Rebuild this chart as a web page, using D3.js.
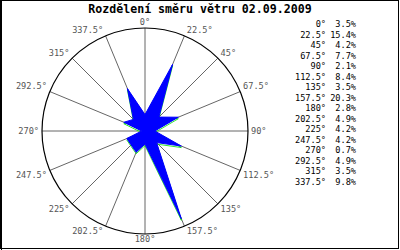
<!DOCTYPE html>
<html>
<head>
<meta charset="utf-8">
<script src="https://cdn.jsdelivr.net/npm/d3@7/dist/d3.min.js"></script>
<style>
  body { margin: 0; background: #fff; }
  text { font-family: "DejaVu Sans Mono", monospace; }
</style>
</head>
<body>
<svg id="chart" width="400" height="250"></svg>
<script>
const title = 'Rozdělení směru větru 02.09.2009';
const directions = [0, 22.5, 45, 67.5, 90, 112.5, 135, 157.5, 180, 202.5, 225, 247.5, 270, 292.5, 315, 337.5];
const percents = [3.5, 15.4, 4.2, 7.7, 2.1, 8.4, 3.5, 20.3, 2.8, 4.9, 4.2, 4.2, 0.7, 4.9, 3.5, 9.8];
const scaleMax = 22;

const cx = 145, cy = 131, R = 103;

const svg = d3.select('#chart');

svg.append('rect')
    .attr('x', 0.5).attr('y', 0.5)
    .attr('width', 398).attr('height', 248)
    .attr('fill', '#fff')
    .attr('stroke', '#000');
svg.append('line')
    .attr('x1', 1.5).attr('x2', 1.5).attr('y1', 0).attr('y2', 250)
    .attr('stroke', '#000');

svg.append('text')
    .attr('x', 200).attr('y', 13)
    .attr('text-anchor', 'middle')
    .attr('font-size', 11.6)
    .attr('font-weight', 'bold')
    .text(title);

const r = d3.scaleLinear().domain([0, scaleMax]).range([0, R]);
const rad = d => d * Math.PI / 180;

const g = svg.append('g').attr('transform', `translate(${cx},${cy})`);

// spokes
g.selectAll('line.spoke')
    .data(directions)
    .enter()
        .append('line')
        .attr('x1', 0).attr('y1', 0)
        .attr('x2', d => R * Math.sin(rad(d)))
        .attr('y2', d => -R * Math.cos(rad(d)))
        .attr('stroke', '#666')
        .attr('stroke-width', 1);

g.append('circle')
    .attr('r', R)
    .attr('fill', 'none')
    .attr('stroke', '#000')
    .attr('stroke-width', 1.2);

const pts = directions.map((d, i) => [r(percents[i]) * Math.sin(rad(d)), -r(percents[i]) * Math.cos(rad(d))]);
const line = d3.line().curve(d3.curveLinearClosed);

g.append('path')
    .attr('d', line(pts))
    .attr('transform', 'translate(0,1.5)')
    .attr('fill', 'none')
    .attr('stroke', '#00e000')
    .attr('stroke-width', 0.8);

g.append('path')
    .attr('d', line(pts))
    .attr('fill', '#0000ff')
    .attr('stroke', '#0000ff')
    .attr('stroke-width', 1)
    .attr('stroke-linejoin', 'miter');

// direction labels
const fmt = d => `${d}°`;
g.selectAll('text.lab')
    .data(directions)
    .enter()
        .append('text')
        .attr('x', d => (R + 1) * Math.sin(rad(d)) + (Math.abs(Math.sin(rad(d))) < 0.01 ? 0 : Math.sign(Math.sin(rad(d))) * 2))
        .attr('y', d => -(R + 1) * Math.cos(rad(d)))
        .attr('dy', d => {
            const c = Math.cos(rad(d));
            return Math.abs(c) < 0.01 ? '0.35em' : (c > 0 ? '-0.2em' : '0.85em');
        })
        .attr('text-anchor', d => {
            const s = Math.sin(rad(d));
            return Math.abs(s) < 0.01 ? 'middle' : (s > 0 ? 'start' : 'end');
        })
        .attr('font-size', 8.6)
        .attr('fill', '#555')
        .text(fmt);

// legend table
const leg = svg.append('g');
const rowY = d3.scaleLinear().domain([0, directions.length - 1]).range([24, 182]);
leg.selectAll('text.dir')
    .data(directions)
    .enter()
        .append('text')
        .attr('x', 326)
        .attr('y', (d, i) => rowY(i))
        .attr('dy', '0.35em')
        .attr('text-anchor', 'end')
        .attr('font-size', 8.6)
        .text(fmt);
leg.selectAll('text.pct')
    .data(percents)
    .enter()
        .append('text')
        .attr('x', 356)
        .attr('y', (d, i) => rowY(i))
        .attr('dy', '0.35em')
        .attr('text-anchor', 'end')
        .attr('font-size', 8.6)
        .text(d => `${d.toFixed(1)}%`);
</script>
</body>
</html>
